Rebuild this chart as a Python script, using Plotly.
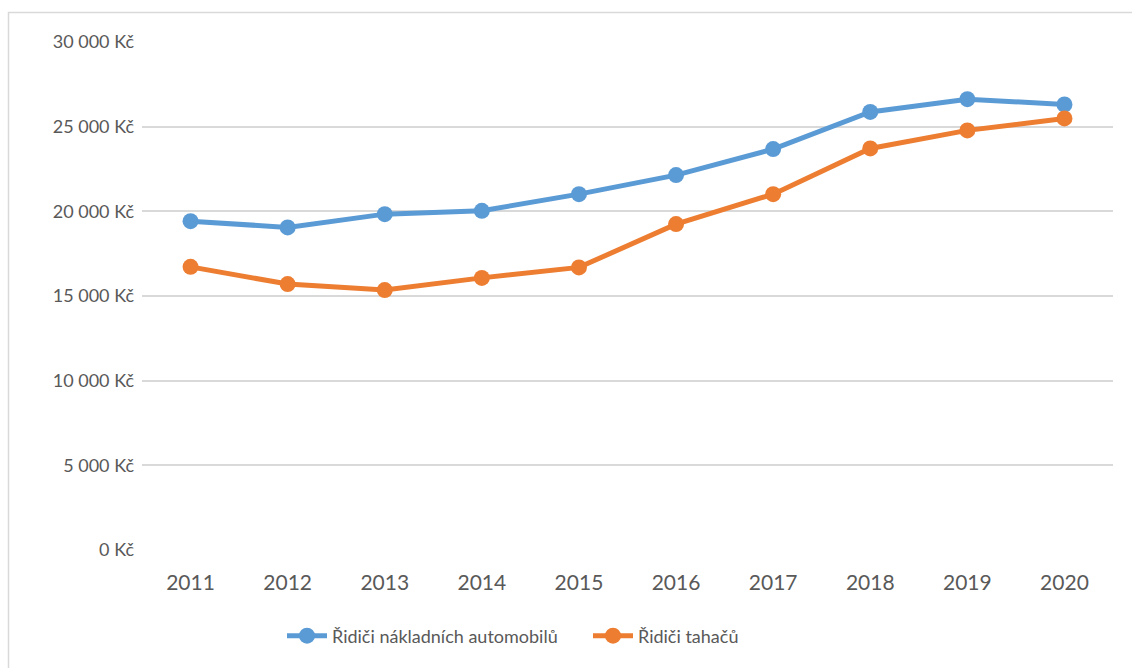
import plotly.graph_objects as go

years = ["2011", "2012", "2013", "2014", "2015", "2016", "2017", "2018", "2019", "2020"]
truck_drivers = [19420, 19050, 19835, 20030, 21015, 22140, 23675, 25870, 26625, 26310]
tractor_drivers = [16720, 15705, 15350, 16070, 16690, 19245, 21015, 23715, 24780, 25485]
series_names = ["Řidiči nákladních automobilů", "Řidiči tahačů"]
y_ticks = [0, 5000, 10000, 15000, 20000, 25000, 30000]
y_tick_text = [f"{v:,}".replace(",", " ") + " Kč" for v in y_ticks]

W, H = 1132, 668
L, R, T, B = 142, 19, 42, 118
pw, ph = W - L - R, H - T - B

def px_x(p):
    return (p - L) / pw

def px_y(p):
    return (H - B - p) / ph

fig = go.Figure()
for name, vals, col in [(series_names[0], truck_drivers, "#5b9bd5"),
                        (series_names[1], tractor_drivers, "#ed7d31")]:
    fig.add_trace(go.Scatter(
        x=years, y=vals, name=name, mode="lines+markers",
        line=dict(color=col, width=5),
        marker=dict(color=col, size=16),
    ))

font_family = "Lato, 'Open Sans', sans-serif"
fig.update_layout(
    width=W, height=H,
    margin=dict(l=L, r=R, t=T, b=B, autoexpand=False),
    paper_bgcolor="white", plot_bgcolor="white",
    font=dict(family=font_family, size=21, color="#595959"),
    showlegend=True,
    legend=dict(orientation="h", x=px_x(282), xanchor="left",
                y=px_y(636), yanchor="middle",
                font=dict(size=18, color="#595959"),
                itemwidth=40, entrywidth=251, entrywidthmode="pixels",
                bgcolor="rgba(0,0,0,0)"),
    xaxis=dict(type="category", range=[-0.5, len(years) - 0.5],
               showgrid=False, zeroline=False,
               showline=False, ticks="", ticklabelstandoff=18,
               tickfont=dict(size=21, color="#595959")),
    yaxis=dict(range=[0, 30000], tickvals=y_ticks, ticktext=y_tick_text,
               showgrid=True, gridcolor="#d9d9d9",
               gridwidth=1.5, zeroline=False, showline=False, ticks="",
               ticklabelstandoff=7,
               tickfont=dict(size=18, color="#595959")),
    shapes=[dict(type="rect", xref="paper", yref="paper",
                 x0=px_x(8.5), x1=px_x(1145), y0=px_y(680), y1=px_y(12.5),
                 line=dict(color="#d9d9d9", width=1.5), fillcolor="rgba(0,0,0,0)",
                 layer="below")],
)
fig.write_html("out.html", config={"displayModeBar": False},
               post_script="document.body.style.margin='0';document.body.style.overflow='hidden';")
